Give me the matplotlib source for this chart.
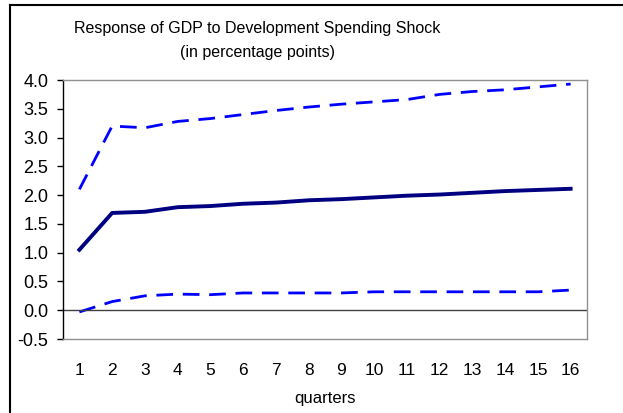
import numpy as np
import matplotlib.pyplot as plt
from matplotlib.lines import Line2D

quarters = np.arange(1, 17)
upper = [2.10, 3.20, 3.17, 3.28, 3.33, 3.40, 3.47, 3.53, 3.58, 3.62, 3.66, 3.75, 3.80, 3.83, 3.88, 3.93]
response = [1.05, 1.69, 1.71, 1.79, 1.81, 1.85, 1.87, 1.91, 1.93, 1.96, 1.99, 2.01, 2.04, 2.07, 2.09, 2.11]
lower = [-0.03, 0.15, 0.25, 0.28, 0.27, 0.30, 0.30, 0.30, 0.30, 0.32, 0.32, 0.32, 0.32, 0.32, 0.32, 0.35]
yticks = np.arange(-0.5, 4.01, 0.5)


def main():
    plt.rcParams['font.family'] = ['Liberation Sans', 'DejaVu Sans']
    W, H = 623, 413
    fig = plt.figure(figsize=(W / 100, H / 100), dpi=100)
    # plot area in pixels: left 63, right 587, top 80, bottom 339
    ax = fig.add_axes([63 / W, 1 - 339 / H, (587 - 63) / W, (339 - 80) / H])

    ax.plot(quarters, upper, color='#0000ff', lw=2, dashes=(6, 3.5))
    ax.plot(quarters, lower, color='#0000ff', lw=2, dashes=(6, 3.5))
    ax.plot(quarters, response, color='#000080', lw=2.8)
    ax.axhline(0, color='#404040', lw=1)

    ax.set_xlim(0.5, 16.5)
    ax.set_ylim(-0.5, 4.0)
    ax.set_yticks(yticks)
    ax.set_yticklabels(['%.1f' % v for v in yticks])
    ax.set_xticks(quarters)
    ax.tick_params(axis='y', direction='out', length=4.5, width=1, color='black',
                   labelsize=13, pad=6)
    ax.tick_params(axis='x', length=0, labelsize=12.5, pad=17)
    for s in ['top', 'right', 'bottom']:
        ax.spines[s].set_color('#909090')
        ax.spines[s].set_linewidth(1)
    ax.spines['left'].set_color('black')
    ax.spines['left'].set_linewidth(1)
    ax.set_xlabel('quarters', fontsize=12, labelpad=10)

    fig.text(257 / W, 1 - 28 / H, 'Response of GDP to Development Spending Shock',
             ha='center', va='center', fontsize=11.5)
    fig.text(257 / W, 1 - 53 / H, '(in percentage points)',
             ha='center', va='center', fontsize=11.5)

    # outer chart border (cropped on right and bottom)
    fig.add_artist(Line2D([10 / W, 10 / W], [0, 1 - 5 / H], color='black', lw=1.5))
    fig.add_artist(Line2D([10 / W, 1], [1 - 5 / H, 1 - 5 / H], color='black', lw=1.5))

    fig.savefig('out.png', dpi=100)


if __name__ == '__main__':
    main()
